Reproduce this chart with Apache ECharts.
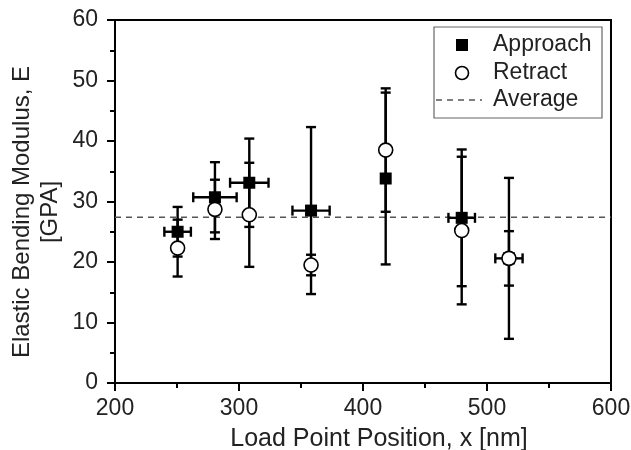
<!DOCTYPE html>
<html>
<head>
<meta charset="utf-8">
<script src="https://cdn.jsdelivr.net/npm/echarts@6/dist/echarts.min.js"></script>
<style>
  html, body { margin: 0; padding: 0; background: #fff; }
  #container { width: 631px; height: 450px; }
</style>
</head>
<body>
<div id="container"></div>
<script type="text/javascript">
// load point positions [nm]
var xPos = [250.5, 280.6, 308.3, 358.1, 418.3, 479.6, 517.7];

// approach
var approachE = [25.0, 30.7, 33.1, 28.5, 33.8, 27.3, 20.6];
var approachErrE = [4.1, 5.8, 7.3, 13.8, 14.2, 11.3, 4.5];
var approachErrX = [10.7, 17.5, 15.5, 15.0, 0, 10.7, 11.0];

// retract
var retractE = [22.3, 28.7, 27.8, 19.5, 38.5, 25.2, 20.6];
var retractErrE = [4.7, 4.9, 8.6, 1.7, 10.2, 12.2, 13.3];
var retractErrX = [0, 0, 0, 0, 0, 0, 0];

var averageE = 27.4;
var legendNames = ['Approach', 'Retract', 'Average'];

var font = '"Liberation Sans", Arial, sans-serif';

var dom = document.getElementById("container");
var myChart = echarts.init(dom);

function errRows(ys, ey, ex) {
    var rows = [];
    for (var i = 0; i < xPos.length; i++) {
        rows.push([xPos[i], ys[i], ey[i], ex[i]]);
    }
    return rows;
}

function renderErr(params, api) {
    var x = api.value(0), y = api.value(1), ey = api.value(2), ex = api.value(3);
    var top = api.coord([x, y + ey]);
    var bot = api.coord([x, y - ey]);
    var st = { stroke: '#000', lineWidth: 2.4 };
    var cap = 5;
    var kids = [
        { type: 'line', shape: { x1: top[0], y1: top[1], x2: bot[0], y2: bot[1] }, style: st },
        { type: 'line', shape: { x1: top[0] - cap, y1: top[1], x2: top[0] + cap, y2: top[1] }, style: st },
        { type: 'line', shape: { x1: bot[0] - cap, y1: bot[1], x2: bot[0] + cap, y2: bot[1] }, style: st }
    ];
    if (ex > 0) {
        var l = api.coord([x - ex, y]);
        var r = api.coord([x + ex, y]);
        kids.push({ type: 'line', shape: { x1: l[0], y1: l[1], x2: r[0], y2: r[1] }, style: st });
        kids.push({ type: 'line', shape: { x1: l[0], y1: l[1] - cap, x2: l[0], y2: l[1] + cap }, style: st });
        kids.push({ type: 'line', shape: { x1: r[0], y1: r[1] - cap, x2: r[0], y2: r[1] + cap }, style: st });
    }
    return { type: 'group', children: kids };
}

function pts(ys) {
    return xPos.map(function (x, i) { return [x, ys[i]]; });
}

var option = {
    animation: false,
    backgroundColor: '#fff',
    grid: {
        left: 115, right: 20, top: 20, bottom: 67,
        outerBoundsMode: 'none',
        show: true, borderColor: '#000', borderWidth: 2
    },
    xAxis: {
        type: 'value',
        min: 200, max: 600, interval: 100,
        name: 'Load Point Position, x [nm]',
        nameLocation: 'middle',
        nameGap: 44,
        nameTextStyle: { fontFamily: font, fontSize: 25, color: '#222', padding: [0, 0, 0, 32] },
        axisLine: { lineStyle: { color: '#000', width: 2 } },
        axisTick: { length: 8, lineStyle: { color: '#000', width: 2 } },
        minorTick: { show: true, splitNumber: 2, length: 5, lineStyle: { color: '#000', width: 2 } },
        splitLine: { show: false },
        axisLabel: { fontFamily: font, fontSize: 23, color: '#222', margin: 14 }
    },
    yAxis: {
        type: 'value',
        min: 0, max: 60, interval: 10,
        axisLine: { show: true, lineStyle: { color: '#000', width: 2 } },
        axisTick: { show: true, length: 8, lineStyle: { color: '#000', width: 2 } },
        minorTick: { show: true, splitNumber: 2, length: 5, lineStyle: { color: '#000', width: 2 } },
        splitLine: { show: false },
        axisLabel: { fontFamily: font, fontSize: 23, color: '#222', margin: 17 }
    },
    graphic: [
        { type: 'text', x: 22, y: 212, rotation: Math.PI / 2,
          style: { text: 'Elastic Bending Modulus, E', font: '24px ' + font, fill: '#222', align: 'center', verticalAlign: 'middle' } },
        { type: 'text', x: 50, y: 212, rotation: Math.PI / 2,
          style: { text: '[GPA]', font: '24px ' + font, fill: '#222', align: 'center', verticalAlign: 'middle' } },
        // legend box
        { type: 'rect', shape: { x: 434, y: 27, width: 168, height: 91 }, style: { fill: '#fff', stroke: '#666', lineWidth: 1.2 }, z: 10 },
        { type: 'rect', shape: { x: 456, y: 39, width: 12, height: 12 }, style: { fill: '#000' }, z: 11 },
        { type: 'circle', shape: { cx: 462, cy: 73, r: 6.5 }, style: { fill: '#fff', stroke: '#000', lineWidth: 1.6 }, z: 11 },
        { type: 'line', shape: { x1: 436, y1: 100, x2: 482, y2: 100 }, style: { stroke: '#555', lineWidth: 1.5, lineDash: [6, 5] }, z: 11 },
        { type: 'text', x: 493, y: 45, style: { text: legendNames[0], font: '23px ' + font, fill: '#222', verticalAlign: 'middle' }, z: 11 },
        { type: 'text', x: 493, y: 73, style: { text: legendNames[1], font: '23px ' + font, fill: '#222', verticalAlign: 'middle' }, z: 11 },
        { type: 'text', x: 493, y: 100, style: { text: legendNames[2], font: '23px ' + font, fill: '#222', verticalAlign: 'middle' }, z: 11 }
    ],
    series: [
        {
            name: legendNames[2],
            type: 'line',
            data: [[200, averageE], [600, averageE]],
            symbol: 'none',
            lineStyle: { color: '#555', width: 1.5, type: [6, 5] },
            z: 1
        },
        {
            name: legendNames[0] + ' err',
            type: 'custom',
            renderItem: renderErr,
            data: errRows(approachE, approachErrE, approachErrX),
            encode: { x: 0, y: 1 },
            z: 2
        },
        {
            name: legendNames[1] + ' err',
            type: 'custom',
            renderItem: renderErr,
            data: errRows(retractE, retractErrE, retractErrX),
            encode: { x: 0, y: 1 },
            z: 2
        },
        {
            name: legendNames[0],
            type: 'scatter',
            data: pts(approachE),
            symbol: 'rect',
            symbolSize: 12,
            itemStyle: { color: '#000', opacity: 1 },
            z: 3
        },
        {
            name: legendNames[1],
            type: 'scatter',
            data: pts(retractE),
            symbol: 'circle',
            symbolSize: 14,
            itemStyle: { color: '#fff', borderColor: '#000', borderWidth: 1.6, opacity: 1 },
            z: 4
        }
    ]
};

myChart.setOption(option, true);
</script>
</body>
</html>
